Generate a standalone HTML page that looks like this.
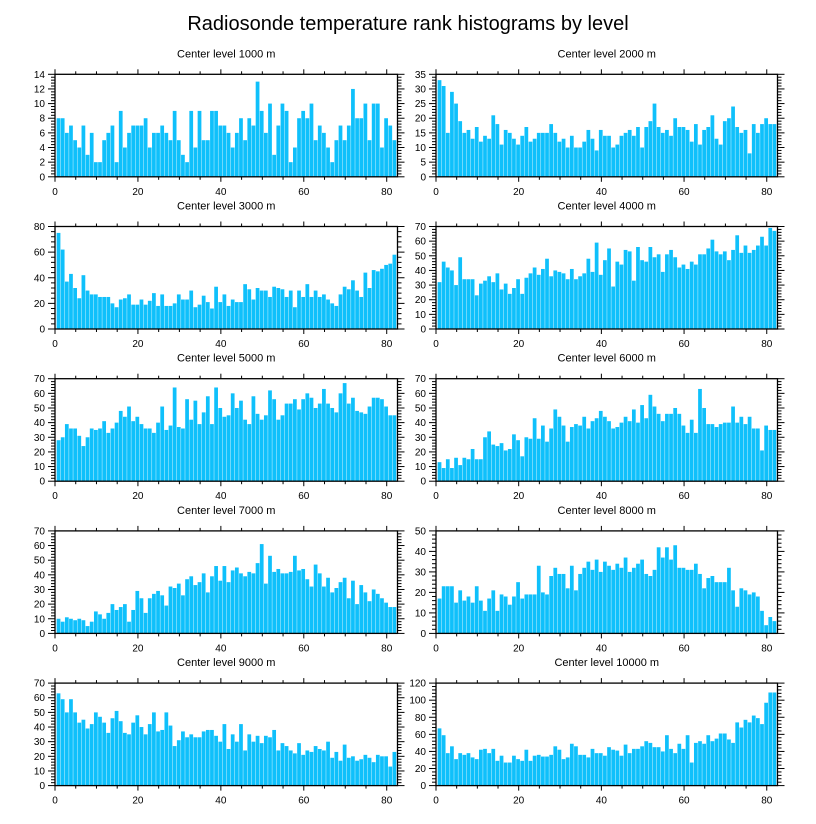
<!DOCTYPE html>
<html><head><meta charset="utf-8">
<style>
body{margin:0;background:#fff;}
svg{display:block;font-family:"Liberation Sans",sans-serif;}
</style></head>
<body>
<svg id="chart" width="816" height="824" viewBox="0 0 816 824">
<text x="408" y="30" text-anchor="middle" font-size="20">Radiosonde temperature rank histograms by level</text>
</svg>
<script>
const levels = ["1000","2000","3000","4000","5000","6000","7000","8000","9000","10000"];
const yMaxes = [14,35,80,70,70,70,70,50,70,120];
const yMajors = [2,5,20,10,10,10,10,10,10,20];
const xTicks = [0,20,40,60,80];
const v1000 = [8,8,6,7,5,4,7,3,6,2,2,5,6,7,2,9,4,6,7,7,7,8,4,6,6,7,6,5,9,5,3,2,9,4,9,5,5,9,9,7,7,6,4,6,8,5,8,7,13,9,6,10,3,7,10,9,2,4,8,9,8,10,5,7,6,4,2,5,7,5,7,12,8,8,10,5,10,10,4,8,7,5];
const v2000 = [33,31,15,29,25,19,15,16,13,17,12,14,13,21,18,11,16,15,13,11,14,17,12,13,15,15,15,18,15,12,13,10,14,10,10,12,16,13,9,16,14,14,10,11,14,15,16,14,17,10,17,19,25,17,15,16,14,20,17,17,16,12,18,11,16,17,21,13,11,19,20,24,17,15,16,8,18,15,18,20,18,18];
const v3000 = [75,62,37,43,32,24,42,30,27,27,25,25,25,20,17,23,24,27,19,19,23,19,22,28,18,27,18,18,20,27,23,23,30,17,19,26,21,16,33,21,27,18,23,21,21,35,31,23,32,30,30,25,33,32,31,25,30,17,30,25,35,25,30,25,27,23,20,18,27,33,31,38,30,25,44,32,46,45,47,50,51,58];
const v4000 = [32,46,42,40,30,49,34,34,34,23,31,33,36,32,38,27,31,24,28,34,24,35,38,42,37,41,48,36,40,39,38,34,41,34,36,38,48,39,59,37,47,55,29,46,44,54,53,33,56,47,46,56,49,51,39,51,54,49,42,44,41,46,44,51,51,55,61,53,51,53,47,54,64,52,57,52,54,57,63,57,69,67];
const v5000 = [28,30,39,36,36,31,24,30,36,35,36,41,33,36,40,48,44,51,41,44,39,36,36,33,40,51,35,38,64,37,36,56,42,55,39,47,58,39,64,50,44,45,60,50,55,42,39,58,46,42,45,62,56,42,45,53,53,56,49,56,60,57,50,53,63,53,50,47,60,67,53,57,48,47,46,51,57,57,56,51,45,45];
const v6000 = [13,9,15,9,16,11,16,15,22,15,15,30,34,25,24,26,21,22,32,28,17,30,29,43,29,38,27,36,49,44,38,27,37,39,38,44,36,41,43,48,44,41,36,37,40,44,41,49,40,52,43,59,51,46,41,46,46,50,46,38,33,42,33,63,50,39,39,37,39,40,40,51,40,44,39,44,36,36,21,38,35,35];
const v7000 = [10,8,11,10,9,10,9,5,8,15,13,10,14,20,16,18,20,8,16,29,24,14,24,27,29,26,19,32,31,34,26,37,39,33,35,41,28,39,46,36,46,35,43,45,41,39,42,41,48,61,34,53,42,44,41,41,42,53,43,44,37,32,47,41,32,38,28,31,35,38,24,36,20,33,28,22,30,27,24,21,18,18];
const v8000 = [17,23,23,23,15,21,16,18,15,23,16,11,17,21,11,19,18,14,18,25,17,19,19,19,33,20,19,28,32,29,29,22,33,21,29,32,35,31,36,30,35,33,31,34,32,37,30,32,34,36,29,28,31,42,37,42,36,43,32,32,31,31,34,29,22,27,28,25,25,25,32,21,13,22,21,19,20,18,11,4,8,6];
const v9000 = [63,59,50,59,50,43,45,39,42,50,47,43,36,46,51,44,36,35,43,48,40,35,42,50,37,38,50,41,27,31,37,33,35,33,33,37,38,38,34,30,42,25,35,30,42,24,35,30,34,29,34,33,38,24,29,27,24,22,29,21,24,23,27,25,24,30,19,23,17,28,19,20,17,18,21,19,16,21,20,20,13,23];
const v10000 = [67,59,38,46,31,38,36,38,33,31,42,43,38,43,29,35,27,27,35,31,29,42,29,35,36,34,34,36,46,42,31,33,49,46,36,36,33,43,38,38,35,45,42,41,35,48,38,43,43,46,52,50,45,45,40,59,43,38,49,43,59,27,50,52,49,59,52,55,61,61,54,50,74,68,77,74,82,79,72,97,109,109];
const series = [v1000,v2000,v3000,v4000,v5000,v6000,v7000,v8000,v9000,v10000];

const NS = "http://www.w3.org/2000/svg";
const svg = document.getElementById("chart");
function mk(tag, attrs, parent){
  const e = document.createElementNS(NS, tag);
  for (const k in attrs) e.setAttribute(k, attrs[k]);
  (parent||svg).appendChild(e);
  return e;
}
const XMAX = 82.6;
levels.forEach((lev, p) => {
  const col = p % 2, row = Math.floor(p / 2);
  const L = col ? 436 : 55, R = col ? 777.5 : 397.5;
  const T = 74.3 + row * 152.2, B = T + 102.5;
  const g = mk("g", {});
  
  
  const xs = v => L + (v / XMAX) * (R - L);
  const ys = v => B - (v / yMaxes[p]) * (B - T);
  const t = mk("text", {x:(L+R)/2, y:T-17, "text-anchor":"middle", "font-size":"11"}, g);
  t.textContent = "Center level " + lev + " m";
  
  
  const vals = series[p];
  vals.forEach((v, i) => {
    const x0 = xs(i + 0.4), x1 = xs(i + 1.4);
    const r = mk("rect", {x:x0, y:ys(v), width:Math.max(0.5, x1 - x0 - 0.4), height:B - ys(v), fill:"#0fc0fb"}, g);
    
    
  });
  for (let xv = 0; xv <= 80; xv += 5) {
    const major = xv % 20 === 0, len = major ? 5 : 3;
    const x = xs(xv);
    mk("line", {x1:x, x2:x, y1:B, y2:B+len, stroke:"#000", "stroke-width":"1"}, g);
    mk("line", {x1:x, x2:x, y1:T, y2:T-len, stroke:"#000", "stroke-width":"1"}, g);
  }
  xTicks.forEach(xv => {
    const lt = mk("text", {x:xs(xv), y:B+18, "text-anchor":"middle", "font-size":"10"}, g);
    lt.textContent = xv;
    
    
  });
  const maj = yMajors[p], minor = maj / 5;
  for (let k = 0; k * minor <= yMaxes[p] + 1e-9; k++) {
    const yv = k * minor, isMaj = k % 5 === 0, len = isMaj ? 7 : 4;
    const y = ys(yv);
    mk("line", {x1:L, x2:L-len, y1:y, y2:y, stroke:"#000", "stroke-width":"1"}, g);
    mk("line", {x1:R, x2:R+len, y1:y, y2:y, stroke:"#000", "stroke-width":"1"}, g);
    if (isMaj) {
      const lt = mk("text", {x:L-10, y:y+3.5, "text-anchor":"end", "font-size":"10"}, g);
      lt.textContent = Math.round(yv);
      
      
    }
  }
  const fr = mk("rect", {x:L, y:T, width:R-L, height:B-T, fill:"none", stroke:"#000", "stroke-width":"1.3"}, g);
  
  
});
</script>
</body></html>
